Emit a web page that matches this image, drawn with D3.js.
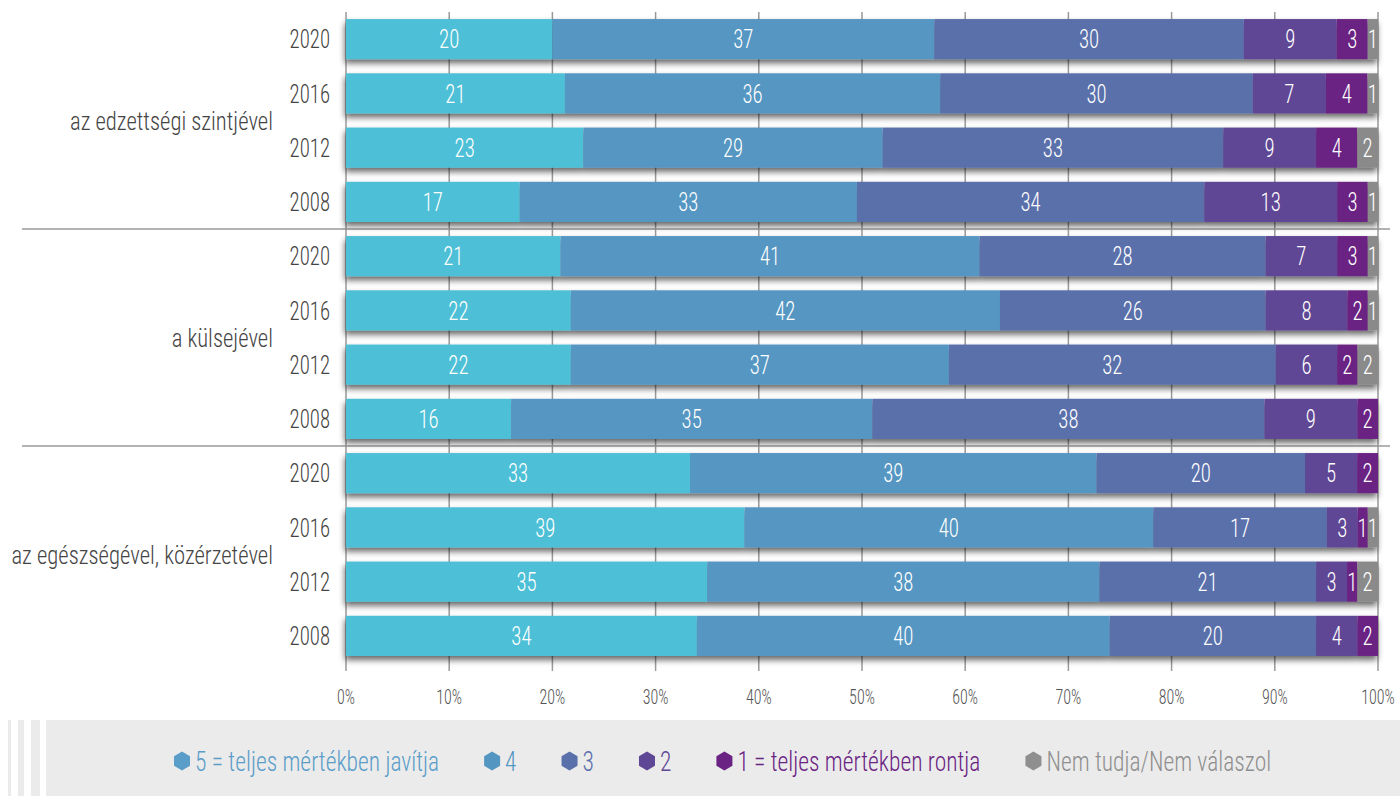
<!DOCTYPE html>
<html>
<head>
<meta charset="utf-8">
<script src="https://cdn.jsdelivr.net/npm/d3@7"></script>
<style>
  body { margin: 0; background: #fff; }
  svg text { font-family: "Roboto Condensed", "Liberation Sans Narrow", "DejaVu Sans Condensed", sans-serif; font-weight: 300; }
</style>
</head>
<body>
<svg id="chart" width="1400" height="796"></svg>
<script>
// categories
var groups = ["az edzettségi szintjével", "a külsejével", "az egészségével, közérzetével"];
var years = ["2020", "2016", "2012", "2008"];
var seriesNames = ["5 = teljes mértékben javítja", "4", "3", "2", "1 = teljes mértékben rontja", "Nem tudja/Nem válaszol"];
var seriesKeys = ["s5", "s4", "s3", "s2", "s1", "na"];

// values per series, rows in order: group 1 (2020..2008), group 2, group 3
var s5 = [20, 21, 23, 17, 21, 22, 22, 16, 33, 39, 35, 34];
var s4 = [37, 36, 29, 33, 41, 42, 37, 35, 39, 40, 38, 40];
var s3 = [30, 30, 33, 34, 28, 26, 32, 38, 20, 17, 21, 20];
var s2 = [9, 7, 9, 13, 7, 8, 6, 9, 5, 3, 3, 4];
var s1 = [3, 4, 4, 3, 3, 2, 2, 2, 2, 1, 1, 2];
var na = [1, 1, 2, 1, 1, 1, 2, 0, 0, 1, 2, 0];

var ticks = [0, 0.1, 0.2, 0.3, 0.4, 0.5, 0.6, 0.7, 0.8, 0.9, 1];

var barColors = ["#4ebfd6", "#5496c2", "#5a70ab", "#5e4795", "#6a2283", "#8a8a8a"];
var legendColors = ["#5a9dc8", "#5496c2", "#5a70ab", "#5e4795", "#6a2283", "#8f8f8f"];

var svg = d3.select("#chart");

// squeeze text horizontally to mimic the condensed face of the original
function condense(sel, k) {
    sel.each(function() {
        var w = this.getComputedTextLength();
        d3.select(this).attr("textLength", w * k).attr("lengthAdjust", "spacingAndGlyphs");
    });
}

// build rows table
var rows = [];
groups.forEach(function(g, gi) {
    years.forEach(function(y, yi) {
        var i = gi * years.length + yi;
        rows.push({id: i, group: g, year: y, s5: s5[i], s4: s4[i], s3: s3[i], s2: s2[i], s1: s1[i], na: na[i]});
    });
});

var x = d3.scaleLinear().domain([0, 1]).range([346, 1378]);
var y = d3.scaleBand().domain(rows.map(function(d) { return d.id; }))
    .range([12, 663]).paddingInner(0.26).paddingOuter(0.13);

var stack = d3.stack().keys(seriesKeys).offset(d3.stackOffsetExpand);
var stacked = stack(rows);

// shadow filter
var defs = svg.append("defs");
var f = defs.append("filter").attr("id", "shadow").attr("x", "-5%").attr("y", "-30%").attr("width", "110%").attr("height", "180%");
f.append("feDropShadow").attr("dx", -1).attr("dy", 4).attr("stdDeviation", 3)
    .attr("flood-color", "#000").attr("flood-opacity", 0.6);

// gridlines
svg.append("g").selectAll("line").data(ticks).join("line")
    .attr("x1", function(d) { return x(d); }).attr("x2", function(d) { return x(d); })
    .attr("y1", 12).attr("y2", 671)
    .attr("stroke", "#9a9a9a").attr("stroke-width", 1.5);

// group separators
svg.append("g").selectAll("line").data([4, 8]).join("line")
    .attr("x1", 22).attr("x2", 1390)
    .attr("y1", function(d) { return (y(d - 1) + y.bandwidth() + y(d)) / 2; })
    .attr("y2", function(d) { return (y(d - 1) + y.bandwidth() + y(d)) / 2; })
    .attr("stroke", "#9a9a9a").attr("stroke-width", 1.5);

// bars
var barG = svg.append("g");
barG.selectAll("g.row").data(rows).join("g")
    .attr("class", "row")
    .attr("filter", "url(#shadow)")
    .each(function(row, ri) {
        d3.select(this).selectAll("rect").data(stacked).join("rect")
            .attr("x", function(s) { return x(s[ri][0]); })
            .attr("width", function(s) { return x(s[ri][1]) - x(s[ri][0]); })
            .attr("y", y(row.id))
            .attr("height", y.bandwidth())
            .attr("fill", function(s, si) { return barColors[si]; });
    });

// value labels
var labG = svg.append("g");
stacked.forEach(function(s) {
    labG.selectAll(null).data(s.filter(function(d) { return d.data[s.key] > 0; })).join("text")
        .attr("x", function(d) { return (x(d[0]) + x(d[1])) / 2; })
        .attr("y", function(d) { return y(d.data.id) + y.bandwidth() / 2; })
        .attr("dy", "0.36em")
        .attr("text-anchor", "middle")
        .attr("fill", "#fff")
        .style("font-size", "26px")
        .text(function(d) { return d.data[s.key]; })
        .call(condense, 0.8);
});

// year labels
svg.append("g").selectAll("text").data(rows).join("text")
    .attr("x", 330)
    .attr("y", function(d) { return y(d.id) + y.bandwidth() / 2; })
    .attr("dy", "0.36em")
    .attr("text-anchor", "end")
    .attr("fill", "#444")
    .style("font-size", "26px")
    .text(function(d) { return d.year; })
    .call(condense, 0.8);

// group labels
svg.append("g").selectAll("text").data(groups).join("text")
    .attr("x", 273)
    .attr("y", function(g, gi) {
        var a = y(gi * 4), b = y(gi * 4 + 3) + y.bandwidth();
        return (a + b) / 2;
    })
    .attr("dy", "0.36em")
    .attr("text-anchor", "end")
    .attr("fill", "#444")
    .style("font-size", "26px")
    .text(function(g) { return g; })
    .call(condense, 0.87);

// x axis labels
svg.append("g").selectAll("text").data(ticks).join("text")
    .attr("x", function(d) { return x(d); })
    .attr("y", 704)
    .attr("text-anchor", "middle")
    .attr("fill", "#555")
    .style("font-size", "20px")
    .text(d3.format(".0%"))
    .call(condense, 0.8);

// legend background with stripes
var lg = svg.append("g");
[[8, 3], [18, 6], [31, 9], [46, 1354]].forEach(function(r) {
    lg.append("rect").attr("x", r[0]).attr("y", 720).attr("width", r[1]).attr("height", 76).attr("fill", "#ebebeb");
});

function hexPath(cx, cy, w, h) {
    var q = h / 4;
    return "M" + cx + "," + (cy - h / 2) +
        "L" + (cx + w / 2) + "," + (cy - q) +
        "L" + (cx + w / 2) + "," + (cy + q) +
        "L" + cx + "," + (cy + h / 2) +
        "L" + (cx - w / 2) + "," + (cy + q) +
        "L" + (cx - w / 2) + "," + (cy - q) + "Z";
}

var lx = 174;
var gaps = [45, 45, 45, 45, 45, 0];
seriesNames.forEach(function(name, i) {
    lg.append("path").attr("d", hexPath(lx + 8, 761, 16, 19)).attr("fill", legendColors[i]);
    var t = lg.append("text")
        .attr("x", lx + 21)
        .attr("y", 761)
        .attr("dy", "0.36em")
        .attr("fill", legendColors[i])
        .style("font-size", "27px")
        .text(name)
        .call(condense, 0.87);
    lx = lx + 21 + (+t.attr("textLength")) + gaps[i];
});
</script>
</body>
</html>
